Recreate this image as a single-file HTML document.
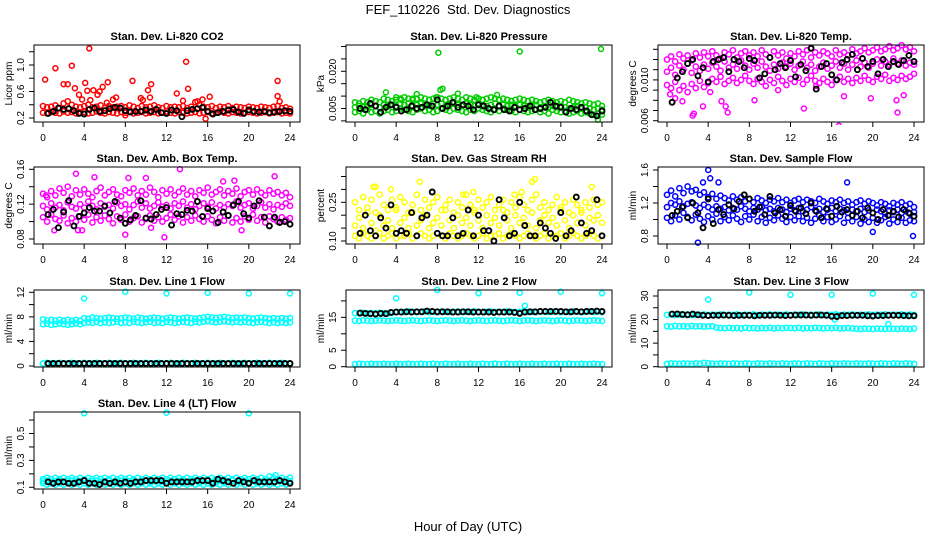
<!DOCTYPE html>
<html><head><meta charset="utf-8">
<style>
html,body{margin:0;padding:0;background:#fff;}
svg{display:block;font-family:"Liberation Sans",Arial,sans-serif;}
</style></head>
<body>
<svg id="c" width="936" height="540" viewBox="0 0 936 540">
<text x="468" y="14" text-anchor="middle" font-size="13">FEF_110226&#160; Std. Dev. Diagnostics</text>
<text x="468" y="531" text-anchor="middle" font-size="13">Hour of Day (UTC)</text>
</svg>
<script>
// ---- shared data ----
const xTicks = [0,4,8,12,16,20,24];
// colored series sampled every 0.4 h (61 values), black every 0.5 h (48 values)
const co2Lo=[0.28,0.27,0.29,0.28,0.27,0.30,0.28,0.29,0.27,0.28,0.29,0.27,0.28,0.30,0.28,0.27,0.29,0.28,0.27,0.29,0.28,0.30,0.27,0.28,0.29,0.27,0.28,0.29,0.27,0.28,0.30,0.28,0.27,0.29,0.28,0.27,0.28,0.29,0.27,0.28,0.29,0.27,0.28,0.30,0.28,0.27,0.29,0.28,0.27,0.28,0.29,0.28,0.27,0.28,0.29,0.27,0.28,0.29,0.27,0.28,0.27];
const co2Hi=[0.38,0.36,0.37,0.39,0.35,0.42,0.45,0.40,0.37,0.36,0.38,0.40,0.36,0.37,0.39,0.35,0.38,0.36,0.37,0.38,0.36,0.39,0.37,0.35,0.38,0.36,0.37,0.39,0.36,0.35,0.38,0.36,0.37,0.36,0.38,0.35,0.37,0.44,0.40,0.37,0.36,0.38,0.35,0.37,0.36,0.38,0.35,0.37,0.36,0.35,0.37,0.36,0.35,0.37,0.36,0.35,0.37,0.38,0.35,0.36,0.34];
const co2OutT=[0.2,1.2,2.0,2.4,2.8,3.1,3.5,3.8,4.1,4.3,4.5,4.6,4.9,5.3,5.5,5.8,6.2,6.3,6.8,7.1,8.7,9.5,9.7,10.2,10.4,10.5,13.0,13.6,13.9,14.1,15.0,15.5,16.2,22.8,22.8,23.0,15.8,8.0];
const co2OutV=[0.78,0.95,0.71,0.71,0.99,0.65,0.55,0.48,0.73,0.61,1.25,0.47,0.62,0.55,0.60,0.67,0.43,0.74,0.48,0.51,0.76,0.50,0.47,0.62,0.51,0.71,0.57,0.46,1.05,0.64,0.45,0.48,0.52,0.76,0.53,0.45,0.19,0.24];
const co2Blk=[0.27,0.30,0.35,0.33,0.34,0.31,0.27,0.26,0.33,0.35,0.30,0.31,0.34,0.36,0.35,0.31,0.29,0.30,0.30,0.32,0.30,0.33,0.28,0.27,0.32,0.31,0.22,0.31,0.33,0.34,0.36,0.30,0.26,0.28,0.30,0.32,0.33,0.29,0.27,0.32,0.30,0.29,0.30,0.28,0.29,0.30,0.31,0.30];

const prLo=[0.0035,0.004,0.003,0.0045,0.0035,0.004,0.003,0.004,0.0045,0.0035,0.004,0.005,0.0045,0.004,0.0035,0.0045,0.005,0.004,0.0045,0.0035,0.004,0.005,0.0045,0.004,0.005,0.0045,0.004,0.0035,0.0045,0.004,0.005,0.0045,0.004,0.0035,0.0045,0.004,0.005,0.0045,0.004,0.0035,0.0045,0.004,0.0035,0.004,0.0045,0.0035,0.004,0.003,0.0045,0.004,0.0035,0.004,0.003,0.0035,0.004,0.003,0.0035,0.003,0.0025,0.003,0.0025];
const prMid=[0.0055,0.006,0.0055,0.006,0.0065,0.006,0.0055,0.0065,0.006,0.0065,0.006,0.007,0.0065,0.007,0.006,0.0065,0.007,0.0065,0.006,0.007,0.0065,0.007,0.006,0.0065,0.007,0.0065,0.006,0.007,0.0065,0.006,0.007,0.0065,0.006,0.0065,0.007,0.006,0.0065,0.006,0.0065,0.006,0.0065,0.006,0.0055,0.006,0.0065,0.0055,0.006,0.0055,0.006,0.0055,0.006,0.0055,0.005,0.0055,0.006,0.005,0.0055,0.005,0.0045,0.005,0.0045];
const prHi=[0.0075,0.007,0.008,0.0075,0.0085,0.008,0.0075,0.009,0.0085,0.008,0.0085,0.009,0.0095,0.009,0.0085,0.009,0.0095,0.009,0.0085,0.009,0.0095,0.009,0.0085,0.009,0.0095,0.009,0.0085,0.0095,0.009,0.0085,0.009,0.0085,0.009,0.0095,0.009,0.0085,0.009,0.0085,0.008,0.0085,0.009,0.0085,0.008,0.0085,0.008,0.0075,0.008,0.0085,0.008,0.0075,0.008,0.0075,0.0085,0.008,0.0075,0.007,0.0075,0.007,0.0065,0.007,0.006];
const prOutT=[3.0,4.0,4.5,5.6,6.0,7.9,8.1,8.3,8.5,10.0,11.8,13.8,16.0,23.9,23.6];
const prOutV=[0.0115,0.0095,0.0085,0.009,0.0108,0.0095,0.0275,0.0125,0.013,0.011,0.0095,0.0105,0.028,0.029,0.0005];
const prBlk=[0.005,0.0045,0.007,0.006,0.0035,0.0055,0.0065,0.0055,0.004,0.0045,0.006,0.005,0.0055,0.0065,0.006,0.0085,0.005,0.006,0.0075,0.0055,0.0065,0.006,0.0045,0.0065,0.006,0.005,0.0045,0.006,0.0045,0.004,0.0055,0.0045,0.005,0.006,0.0045,0.005,0.0055,0.0075,0.006,0.0055,0.0035,0.005,0.0045,0.0055,0.004,0.0025,0.002,0.004];

const tpLo=[0.0095,0.0092,0.0098,0.009,0.0094,0.0088,0.0096,0.0092,0.0099,0.0093,0.0097,0.0101,0.0098,0.0103,0.0096,0.0099,0.0102,0.0097,0.0100,0.0104,0.0099,0.0096,0.0101,0.0098,0.0094,0.0100,0.0097,0.0103,0.0099,0.0095,0.0101,0.0098,0.0102,0.0096,0.0100,0.0104,0.0099,0.0097,0.0101,0.0098,0.0095,0.0100,0.0103,0.0098,0.0101,0.0097,0.0102,0.0099,0.0104,0.0100,0.0098,0.0103,0.0101,0.0105,0.0099,0.0102,0.0100,0.0104,0.0101,0.0103,0.0106];
const tpMid=[0.0108,0.0112,0.0105,0.0114,0.011,0.0116,0.0107,0.0113,0.0109,0.0115,0.0111,0.0117,0.0113,0.0109,0.0118,0.0112,0.0115,0.0111,0.0119,0.0114,0.0110,0.0116,0.0112,0.0118,0.0113,0.0109,0.0115,0.0111,0.0117,0.0113,0.0116,0.0110,0.0114,0.0118,0.0112,0.0115,0.0109,0.0113,0.0117,0.0111,0.0114,0.0118,0.0112,0.0116,0.0110,0.0115,0.0119,0.0113,0.0117,0.0112,0.0116,0.0120,0.0114,0.0118,0.0115,0.0121,0.0116,0.0119,0.0114,0.0117,0.0115];
const tpHi=[0.0120,0.0123,0.0118,0.0125,0.0121,0.0124,0.0119,0.0126,0.0122,0.0127,0.0123,0.0128,0.0124,0.0121,0.0127,0.0125,0.0129,0.0122,0.0126,0.0128,0.0124,0.0127,0.0123,0.0129,0.0125,0.0122,0.0128,0.0124,0.0127,0.0121,0.0126,0.0123,0.0128,0.0125,0.0129,0.0122,0.0127,0.0124,0.0128,0.0126,0.0123,0.0129,0.0125,0.0127,0.0124,0.0130,0.0126,0.0128,0.0131,0.0127,0.0129,0.0132,0.0128,0.0130,0.0133,0.0129,0.0131,0.0134,0.0130,0.0132,0.0128];
const tpOutT=[0.3,0.8,1.5,2.5,2.6,3.5,4.2,5.3,5.7,5.9,8.5,10.8,13.3,14.5,16.7,17.2,19.8,22.3,22.4,23.0];
const tpOutV=[0.0086,0.0082,0.0079,0.0065,0.0067,0.0074,0.0088,0.0079,0.0074,0.0068,0.0080,0.009,0.0072,0.0094,0.0055,0.0084,0.0082,0.008,0.0068,0.0085];
const tpBlk=[0.0078,0.0102,0.0108,0.0116,0.0120,0.0104,0.0112,0.0098,0.0118,0.0120,0.0122,0.0108,0.0120,0.0118,0.0112,0.0121,0.0119,0.0102,0.0106,0.0122,0.0110,0.0116,0.0112,0.0119,0.0103,0.0115,0.0109,0.0131,0.0091,0.0113,0.0116,0.0105,0.0100,0.0117,0.0120,0.0125,0.0110,0.0121,0.0113,0.0118,0.0106,0.0120,0.0113,0.0118,0.0115,0.0119,0.0124,0.0118];

const bxLo=[0.105,0.100,0.108,0.103,0.101,0.107,0.098,0.104,0.100,0.106,0.102,0.108,0.099,0.105,0.101,0.107,0.103,0.098,0.106,0.102,0.108,0.100,0.104,0.106,0.099,0.103,0.107,0.101,0.105,0.100,0.104,0.108,0.102,0.106,0.099,0.105,0.101,0.107,0.103,0.100,0.106,0.102,0.098,0.105,0.101,0.107,0.099,0.104,0.100,0.106,0.102,0.108,0.101,0.105,0.099,0.106,0.103,0.100,0.105,0.102,0.104];
const bxMid=[0.118,0.114,0.121,0.116,0.119,0.113,0.122,0.117,0.115,0.120,0.116,0.123,0.118,0.114,0.121,0.117,0.119,0.115,0.122,0.118,0.120,0.114,0.119,0.123,0.116,0.121,0.115,0.118,0.122,0.117,0.119,0.115,0.121,0.118,0.123,0.116,0.120,0.114,0.118,0.121,0.117,0.122,0.115,0.119,0.116,0.120,0.118,0.123,0.116,0.119,0.121,0.115,0.118,0.122,0.116,0.120,0.114,0.119,0.117,0.121,0.118];
const bxHi=[0.132,0.128,0.135,0.130,0.138,0.133,0.140,0.129,0.136,0.131,0.137,0.132,0.128,0.135,0.139,0.130,0.134,0.137,0.131,0.129,0.136,0.133,0.138,0.130,0.135,0.131,0.139,0.134,0.128,0.136,0.132,0.137,0.130,0.134,0.138,0.131,0.135,0.129,0.136,0.133,0.139,0.131,0.134,0.137,0.130,0.135,0.132,0.138,0.129,0.134,0.136,0.131,0.137,0.133,0.130,0.136,0.132,0.134,0.130,0.133,0.128];
const bxOutT=[0.3,1.1,3.2,3.4,3.8,5.0,8.0,8.3,10.0,11.8,13.3,17.5,18.6,22.5,19.3,10.5];
const bxOutV=[0.13,0.09,0.155,0.09,0.09,0.151,0.085,0.15,0.15,0.082,0.16,0.146,0.147,0.152,0.09,0.093];
const bxBlk=[0.108,0.114,0.093,0.111,0.124,0.095,0.106,0.110,0.116,0.112,0.112,0.118,0.110,0.123,0.104,0.098,0.102,0.107,0.124,0.104,0.103,0.108,0.114,0.116,0.096,0.109,0.108,0.113,0.112,0.123,0.106,0.115,0.112,0.099,0.111,0.107,0.119,0.123,0.109,0.104,0.118,0.124,0.105,0.095,0.105,0.099,0.100,0.097];

const rhLo=[0.12,0.11,0.13,0.12,0.11,0.12,0.13,0.11,0.12,0.13,0.11,0.12,0.12,0.13,0.11,0.12,0.13,0.12,0.11,0.12,0.13,0.12,0.11,0.13,0.12,0.11,0.12,0.13,0.12,0.11,0.12,0.13,0.11,0.12,0.12,0.13,0.11,0.12,0.13,0.12,0.11,0.12,0.13,0.12,0.11,0.12,0.13,0.11,0.12,0.12,0.13,0.11,0.12,0.13,0.12,0.11,0.12,0.13,0.12,0.11,0.12];
const rhMid=[0.16,0.19,0.15,0.21,0.17,0.14,0.20,0.16,0.18,0.15,0.22,0.17,0.19,0.15,0.21,0.16,0.18,0.20,0.15,0.17,0.19,0.16,0.22,0.18,0.15,0.20,0.17,0.19,0.16,0.21,0.18,0.15,0.20,0.17,0.19,0.16,0.22,0.18,0.15,0.20,0.17,0.19,0.16,0.21,0.15,0.18,0.20,0.17,0.19,0.16,0.22,0.18,0.15,0.20,0.17,0.21,0.16,0.19,0.18,0.20,0.17];
const rhHi=[0.25,0.22,0.27,0.23,0.26,0.21,0.28,0.24,0.22,0.26,0.23,0.27,0.25,0.21,0.24,0.28,0.22,0.26,0.23,0.25,0.27,0.22,0.24,0.26,0.21,0.25,0.23,0.28,0.24,0.22,0.26,0.23,0.25,0.27,0.22,0.24,0.26,0.21,0.25,0.23,0.27,0.24,0.22,0.26,0.28,0.23,0.25,0.22,0.24,0.27,0.23,0.25,0.21,0.26,0.24,0.22,0.25,0.23,0.26,0.24,0.25];
const rhOutT=[1.8,2.0,3.5,6.3,10.5,11.5,15.5,16.2,17.2,17.5,23.0];
const rhOutV=[0.31,0.31,0.30,0.33,0.28,0.29,0.28,0.29,0.33,0.34,0.31];
const rhBlk=[0.13,0.20,0.14,0.12,0.19,0.15,0.24,0.13,0.14,0.13,0.21,0.12,0.19,0.20,0.29,0.13,0.12,0.12,0.19,0.12,0.13,0.22,0.12,0.20,0.14,0.14,0.10,0.26,0.19,0.12,0.13,0.25,0.16,0.12,0.12,0.17,0.15,0.13,0.11,0.21,0.12,0.14,0.27,0.17,0.13,0.14,0.26,0.12];

const sfLo=[1.02,0.98,1.05,1.00,1.08,1.03,0.99,1.06,1.01,0.97,1.04,1.00,1.07,0.98,1.03,0.99,1.05,1.01,0.97,1.04,1.00,1.06,0.98,1.03,0.96,1.02,0.99,1.05,1.01,0.97,1.03,0.99,1.04,0.98,1.02,0.96,1.01,1.05,0.98,1.03,0.97,1.00,1.04,0.96,1.02,0.98,1.03,0.95,1.00,0.97,1.02,0.96,0.99,1.03,0.95,1.00,0.97,1.02,0.96,0.99,0.98];
const sfMid=[1.15,1.20,1.18,1.22,1.16,1.19,1.21,1.17,1.14,1.18,1.15,1.12,1.16,1.13,1.15,1.11,1.14,1.12,1.16,1.13,1.10,1.14,1.12,1.15,1.11,1.13,1.10,1.14,1.12,1.09,1.13,1.11,1.14,1.10,1.12,1.15,1.11,1.13,1.09,1.12,1.14,1.10,1.13,1.11,1.08,1.12,1.10,1.13,1.09,1.11,1.08,1.12,1.10,1.07,1.11,1.09,1.12,1.08,1.10,1.07,1.09];
const sfHi=[1.30,1.35,1.28,1.38,1.32,1.40,1.34,1.36,1.30,1.33,1.27,1.31,1.25,1.29,1.26,1.23,1.28,1.24,1.27,1.22,1.25,1.21,1.26,1.23,1.20,1.24,1.22,1.26,1.21,1.24,1.20,1.23,1.25,1.21,1.24,1.22,1.20,1.25,1.22,1.19,1.23,1.21,1.24,1.20,1.22,1.18,1.21,1.23,1.19,1.22,1.20,1.17,1.21,1.19,1.16,1.20,1.18,1.21,1.17,1.19,1.15];
const sfOutT=[3.0,3.5,4.0,4.2,5.0,17.5,23.9,20.0];
const sfOutV=[0.72,1.45,1.60,1.50,1.45,1.45,0.80,0.85];
const sfBlk=[1.05,1.10,1.15,1.02,1.20,1.08,0.90,1.25,0.95,1.12,1.06,1.18,1.13,1.22,1.30,1.25,1.10,1.15,1.06,1.28,1.08,1.12,1.04,1.17,1.10,1.14,1.07,1.20,1.10,1.02,1.13,1.04,1.16,1.09,1.12,1.05,1.10,1.02,1.14,1.08,1.00,1.12,1.05,1.10,1.03,1.12,1.08,1.04];

const l1Lo=[6.8,6.9,6.7,6.8,6.9,6.8,6.7,6.8,6.9,6.8,7.0,7.1,7.0,7.2,7.0,7.1,7.0,7.1,7.2,7.0,7.1,7.0,7.2,7.1,7.0,7.1,7.2,7.0,7.1,7.0,7.2,7.1,7.0,7.1,7.2,7.1,7.0,7.2,7.1,7.2,7.3,7.2,7.1,7.2,7.3,7.2,7.1,7.2,7.1,7.2,7.1,7.0,7.1,7.2,7.1,7.0,7.1,7.0,7.1,7.0,7.1];
const l1Hi=[7.6,7.4,7.5,7.4,7.5,7.4,7.5,7.4,7.5,7.4,7.8,7.7,7.9,7.8,7.7,7.8,7.9,7.8,7.7,7.8,7.9,7.8,7.7,7.9,7.8,7.7,7.8,7.9,7.8,7.7,7.8,7.9,7.8,7.7,7.8,7.9,7.8,7.7,7.8,7.9,8.0,7.9,7.8,7.9,8.0,7.9,7.8,7.9,7.8,7.9,7.8,7.7,7.8,7.9,7.8,7.7,7.8,7.7,7.8,7.7,7.8];
const l1Z=[0.4,0.5,0.4,0.4,0.5,0.4,0.4,0.5,0.4,0.4,0.5,0.4,0.4,0.5,0.4,0.4,0.5,0.4,0.4,0.5,0.4,0.4,0.5,0.4,0.4,0.5,0.4,0.4,0.5,0.4,0.4,0.5,0.4,0.4,0.5,0.4,0.4,0.5,0.4,0.4,0.5,0.4,0.4,0.5,0.4,0.4,0.5,0.4,0.4,0.5,0.4,0.4,0.5,0.4,0.4,0.5,0.4,0.4,0.5,0.4,0.4];
const l1OutT=[4,8,12,16,20,24];
const l1OutV=[11.0,12.1,11.8,11.9,11.8,11.8];
const l1Blk=[0.4,0.4,0.4,0.4,0.4,0.4,0.4,0.4,0.4,0.4,0.4,0.4,0.4,0.4,0.4,0.4,0.4,0.4,0.4,0.4,0.4,0.4,0.4,0.4,0.4,0.4,0.4,0.4,0.4,0.4,0.4,0.4,0.4,0.4,0.4,0.4,0.4,0.4,0.4,0.4,0.4,0.4,0.4,0.4,0.4,0.4,0.4,0.4];

const l2Lo=[14.0,13.9,14.1,14.0,13.9,14.0,14.1,14.0,13.9,14.0,14.1,14.0,13.9,14.0,14.1,14.0,13.9,14.0,14.1,14.0,13.9,14.0,14.1,14.0,13.9,14.0,14.1,14.0,13.9,14.0,14.1,14.0,13.9,14.0,14.1,14.0,13.9,14.0,14.1,14.0,13.9,14.0,14.1,14.0,13.9,14.0,14.1,14.0,13.9,14.0,14.1,14.0,13.9,14.0,14.1,14.0,13.9,14.0,14.1,14.0,13.9];
const l2Hi=[16.3,16.2,16.4,16.2,16.3,16.2,16.4,16.3,16.2,16.4,16.6,16.7,16.6,16.8,16.7,16.6,16.7,16.8,16.6,16.7,16.6,16.8,16.7,16.6,16.7,16.8,16.6,16.7,16.6,16.8,16.7,16.6,16.7,16.8,16.6,16.7,16.6,16.8,16.7,16.6,16.7,16.8,16.6,16.7,16.6,16.8,16.7,16.6,16.7,16.8,16.6,16.7,16.6,16.8,16.7,16.6,16.7,16.8,16.6,16.7,16.6];
const l2Z=[0.8,0.9,0.8,0.8,0.9,0.8,0.8,0.9,0.8,0.8,0.9,0.8,0.8,0.9,0.8,0.8,0.9,0.8,0.8,0.9,0.8,0.8,0.9,0.8,0.8,0.9,0.8,0.8,0.9,0.8,0.8,0.9,0.8,0.8,0.9,0.8,0.8,0.9,0.8,0.8,0.9,0.8,0.8,0.9,0.8,0.8,0.9,0.8,0.8,0.9,0.8,0.8,0.9,0.8,0.8,0.9,0.8,0.8,0.9,0.8,0.8];
const l2OutT=[4,8,12,16,16.5,20,24];
const l2OutV=[20.8,23.3,22.3,22.5,18.5,22.8,22.3];
const l2Blk=[16.3,16.2,16.1,16.0,16.2,16.1,16.5,16.6,16.6,16.7,16.6,16.7,16.7,16.9,16.8,16.7,16.7,16.7,16.6,16.6,16.7,16.7,16.6,16.6,16.6,16.6,16.5,16.6,16.6,16.6,16.5,16.2,16.6,16.7,16.7,16.8,16.8,16.8,16.8,16.8,16.7,16.7,16.8,16.7,16.8,16.8,16.9,16.8];

const l3Lo=[22.0,22.2,21.9,22.1,22.0,22.2,21.9,22.1,22.0,22.2,21.9,22.1,22.0,22.2,21.9,22.1,22.0,22.2,21.9,22.1,22.0,22.2,21.9,22.1,22.0,22.2,21.9,22.1,22.0,22.2,21.9,22.1,22.0,22.2,21.9,22.1,22.0,22.2,21.9,22.1,22.0,22.2,21.9,22.1,22.0,22.2,21.9,22.1,22.0,22.2,21.9,22.1,22.0,22.2,21.9,22.1,22.0,22.2,21.9,22.1,22.0];
const l3Hi=[17.2,17.0,17.3,17.1,17.2,17.0,17.3,17.1,17.2,17.0,17.1,17.2,16.6,16.4,16.3,16.5,16.3,16.4,16.2,16.5,16.3,16.4,16.2,16.4,16.3,16.5,16.2,16.4,16.3,16.5,16.4,16.3,16.5,16.2,16.4,16.3,16.5,16.4,16.2,16.4,16.3,16.5,16.2,16.3,16.4,16.2,16.1,16.0,16.2,16.1,16.0,16.2,16.1,16.0,16.2,16.1,16.0,16.2,16.1,16.0,16.2];
const l3Z=[1.2,1.4,1.3,1.2,1.4,1.3,1.2,1.4,1.3,1.6,1.5,1.3,1.2,1.4,1.3,1.2,1.4,1.3,1.2,1.4,1.3,1.2,1.4,1.3,1.2,1.4,1.3,1.2,1.4,1.3,1.2,1.4,1.3,1.2,1.4,1.3,1.2,1.4,1.3,1.2,1.4,1.3,1.2,1.4,1.3,1.2,1.4,1.3,1.2,1.4,1.3,1.2,1.4,1.3,1.2,1.4,1.3,1.2,1.4,1.3,1.2];
const l3OutT=[4,8,12,16,16.3,20,21.5,24];
const l3OutV=[28.5,31.5,30.5,30.5,20.0,31.0,18.0,30.5];
const l3Blk=[22.3,22.4,22.2,22.0,22.3,22.0,21.8,21.7,21.8,21.8,21.9,21.8,21.7,21.8,21.8,21.8,21.6,21.8,21.8,21.8,21.9,21.8,21.7,21.8,21.9,21.9,21.9,21.8,21.9,21.9,21.8,21.4,21.3,21.7,21.7,21.8,21.8,21.8,21.6,21.5,21.7,21.7,21.8,21.8,21.8,21.7,21.6,21.6];

const l4Lo=[0.13,0.12,0.13,0.12,0.13,0.12,0.13,0.12,0.13,0.12,0.13,0.12,0.13,0.12,0.13,0.12,0.13,0.12,0.13,0.12,0.13,0.12,0.13,0.12,0.13,0.12,0.13,0.12,0.13,0.12,0.13,0.12,0.13,0.12,0.13,0.12,0.13,0.12,0.13,0.12,0.13,0.12,0.13,0.12,0.13,0.12,0.13,0.12,0.13,0.12,0.13,0.12,0.13,0.12,0.13,0.12,0.13,0.12,0.13,0.12,0.13];
const l4Hi=[0.16,0.17,0.16,0.17,0.16,0.17,0.16,0.17,0.16,0.17,0.16,0.17,0.16,0.17,0.16,0.17,0.16,0.17,0.16,0.17,0.16,0.17,0.16,0.17,0.16,0.17,0.16,0.17,0.16,0.17,0.16,0.17,0.16,0.17,0.16,0.17,0.16,0.17,0.16,0.17,0.16,0.17,0.16,0.17,0.16,0.17,0.16,0.17,0.16,0.17,0.16,0.17,0.16,0.17,0.16,0.18,0.17,0.16,0.17,0.16,0.17];
const l4Z=[0.145,0.15,0.14,0.145,0.15,0.14,0.145,0.15,0.14,0.145,0.15,0.14,0.145,0.15,0.14,0.145,0.15,0.14,0.145,0.15,0.14,0.145,0.15,0.14,0.145,0.15,0.14,0.145,0.15,0.14,0.145,0.15,0.14,0.145,0.15,0.14,0.145,0.15,0.14,0.145,0.15,0.14,0.145,0.15,0.14,0.145,0.15,0.14,0.145,0.15,0.14,0.145,0.15,0.14,0.145,0.15,0.14,0.145,0.15,0.14,0.145];
const l4OutT=[4,12,20,22.6];
const l4OutV=[0.65,0.655,0.65,0.19];
const l4Blk=[0.14,0.13,0.14,0.14,0.13,0.13,0.14,0.15,0.13,0.13,0.12,0.14,0.13,0.14,0.13,0.14,0.13,0.14,0.14,0.15,0.15,0.15,0.15,0.13,0.14,0.14,0.14,0.14,0.14,0.15,0.15,0.15,0.13,0.16,0.15,0.14,0.13,0.15,0.14,0.13,0.15,0.14,0.14,0.14,0.14,0.15,0.14,0.13];

const panels=[
 {name:"co2",title:"Stan. Dev. Li-820 CO2",ylab:"Licor ppm",col:0,row:0,color:"#ff0000",y0:0.2,py0:118,scale:66.25,ticks:[0.2,0.4,0.6,0.8,1.0,1.2],labels:["0.2","","0.6","","1.0",""],bands:[co2Lo,co2Hi],outT:co2OutT,outV:co2OutV,blk:co2Blk},
 {name:"pressure",title:"Stan. Dev. Li-820 Pressure",ylab:"kPa",col:1,row:0,color:"#00cc00",y0:0,py0:120.9,scale:2480,ticks:[0,0.005,0.01,0.015,0.02,0.025,0.03],labels:["","0.005","","","0.020","",""],bands:[prLo,prMid,prHi],outT:prOutT,outV:prOutV,blk:prBlk},
 {name:"li820-temp",title:"Stan. Dev. Li-820 Temp.",ylab:"degrees C",col:2,row:0,color:"#ff00ff",y0:0.006,py0:120.7,scale:10200,ticks:[0.006,0.007,0.008,0.009,0.010,0.011,0.012,0.013],labels:["0.006","","","","0.010","","",""],bands:[tpLo,tpMid,tpHi],outT:tpOutT,outV:tpOutV,blk:tpBlk},
 {name:"amb-box-temp",title:"Stan. Dev. Amb. Box Temp.",ylab:"degrees C",col:0,row:1,color:"#ff00ff",y0:0.08,py0:239,scale:871,ticks:[0.08,0.10,0.12,0.14,0.16],labels:["0.08","","0.12","","0.16"],bands:[bxLo,bxMid,bxHi],outT:bxOutT,outV:bxOutV,blk:bxBlk},
 {name:"gas-rh",title:"Stan. Dev. Gas Stream RH",ylab:"percent",col:1,row:1,color:"#ffff00",y0:0.10,py0:241,scale:258,ticks:[0.10,0.15,0.20,0.25,0.30,0.35],labels:["0.10","","","0.25","",""],bands:[rhLo,rhMid,rhHi],outT:rhOutT,outV:rhOutV,blk:rhBlk},
 {name:"sample-flow",title:"Stan. Dev. Sample Flow",ylab:"ml/min",col:2,row:1,color:"#0000ff",y0:0.8,py0:236,scale:82.5,ticks:[0.8,1.0,1.2,1.4,1.6],labels:["0.8","","1.2","","1.6"],bands:[sfLo,sfMid,sfHi],outT:sfOutT,outV:sfOutV,blk:sfBlk},
 {name:"line1-flow",title:"Stan. Dev. Line 1 Flow",ylab:"ml/min",col:0,row:2,color:"#00ffff",y0:0,py0:366,scale:6.14,ticks:[0,2,4,6,8,10,12],labels:["0","","4","","8","","12"],bands:[l1Lo,l1Hi,l1Z],outT:l1OutT,outV:l1OutV,blk:l1Blk},
 {name:"line2-flow",title:"Stan. Dev. Line 2 Flow",ylab:"ml/min",col:1,row:2,color:"#00ffff",y0:0,py0:366.7,scale:3.29,ticks:[0,5,10,15,20],labels:["0","5","","15",""],bands:[l2Lo,l2Hi,l2Z],outT:l2OutT,outV:l2OutV,blk:l2Blk},
 {name:"line3-flow",title:"Stan. Dev. Line 3 Flow",ylab:"ml/min",col:2,row:2,color:"#00ffff",y0:0,py0:366.7,scale:2.357,ticks:[0,5,10,15,20,25,30],labels:["0","","10","","20","","30"],bands:[l3Lo,l3Hi,l3Z],outT:l3OutT,outV:l3OutV,blk:l3Blk},
 {name:"line4-flow",title:"Stan. Dev. Line 4 (LT) Flow",ylab:"ml/min",col:0,row:3,color:"#00ffff",y0:0.1,py0:487.3,scale:134.5,ticks:[0.1,0.2,0.3,0.4,0.5,0.6],labels:["0.1","","0.3","","0.5",""],bands:[l4Lo,l4Hi,l4Z],outT:l4OutT,outV:l4OutV,blk:l4Blk}
];
const rowTops=[45,167,290,412];
const NS="http://www.w3.org/2000/svg";
const svg=document.getElementById('c');
function mk(tag,attrs,parent){const e=document.createElementNS(NS,tag);for(const k in attrs)e.setAttribute(k,attrs[k]);(parent||svg).appendChild(e);return e;}

panels.forEach(p=>{
  const left=34+312*p.col, top=rowTops[p.row], w=266, h=77, bottom=top+h;
  const xs=h0=>left+9+247*h0/24;
  const ys=v=>p.py0-(v-p.y0)*p.scale;
  const g=mk('g',{});
  
  
  const clip=mk('clipPath',{id:'cl-'+p.name},g);
  mk('rect',{x:left-3,y:top-3,width:w+6,height:h+6},clip);
  const pts=mk('g',{'clip-path':'url(#cl-'+p.name+')'},g);
  
  
  p.bands.forEach(arr=>{
    arr.forEach((v,i)=>{
      const c=mk('circle',{cx:xs(i*0.4).toFixed(1),cy:ys(v).toFixed(1),r:2.6,fill:'none',stroke:p.color,'stroke-width':1.5},pts);
      
      
    });
  });
  p.outT.forEach((t,i)=>{
    const c=mk('circle',{cx:xs(t).toFixed(1),cy:ys(p.outV[i]).toFixed(1),r:2.5,fill:'none',stroke:p.color,'stroke-width':1.5},pts);
    
    
  });
  p.blk.forEach((v,i)=>{
    const c=mk('circle',{cx:xs(0.5+i*0.5).toFixed(1),cy:ys(v).toFixed(1),r:2.5,fill:'none',stroke:'#000','stroke-width':1.9},pts);
    
    
  });
  const box=mk('rect',{x:left,y:top,width:w,height:h,fill:'none',stroke:'#000','stroke-width':1},g);
  
  
  const t=mk('text',{x:left+w/2,y:top-5,'text-anchor':'middle','font-size':11,'font-weight':'bold'},g);
  t.textContent=p.title;
  
  
  xTicks.forEach(v=>{
    mk('line',{x1:xs(v),x2:xs(v),y1:bottom,y2:bottom+5,stroke:'#000'},g);
    const l=mk('text',{x:xs(v),y:bottom+19,'text-anchor':'middle','font-size':10},g);
    l.textContent=v;
    
    
  });
  p.ticks.forEach((v,i)=>{
    const y=ys(v);
    mk('line',{x1:left-5,x2:left,y1:y,y2:y,stroke:'#000'},g);
    if(p.labels[i]){
      const l=mk('text',{x:0,y:0,'text-anchor':'middle','font-size':10,transform:`translate(${left-10},${y}) rotate(-90)`},g);
      l.textContent=p.labels[i];
      
      
    }
  });
  const yl=mk('text',{x:0,y:0,'text-anchor':'middle','font-size':10,transform:`translate(${left-22},${top+h/2}) rotate(-90)`},g);
  yl.textContent=p.ylab;
  
  
});
</script>
</body></html>
